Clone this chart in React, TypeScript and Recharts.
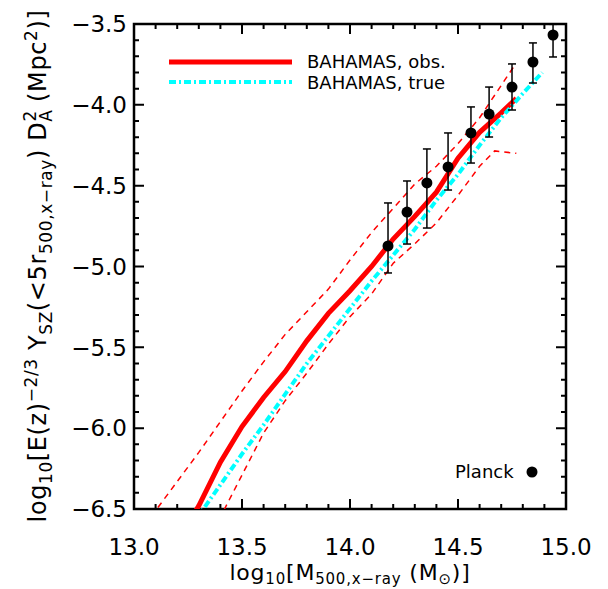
import {
  ComposedChart,
  Line,
  Scatter,
  ErrorBar,
  XAxis,
  YAxis,
  Customized,
} from 'recharts'

const FONT = "'DejaVu Sans', sans-serif"

const xTicks = [
  13.0, 13.1, 13.2, 13.3, 13.4, 13.5, 13.6, 13.7, 13.8, 13.9, 14.0, 14.1, 14.2, 14.3,
  14.4, 14.5, 14.6, 14.7, 14.8, 14.9, 15.0,
]
const yTicks = [
  -6.5, -6.4, -6.3, -6.2, -6.1, -6.0, -5.9, -5.8, -5.7, -5.6, -5.5, -5.4, -5.3, -5.2,
  -5.1, -5.0, -4.9, -4.8, -4.7, -4.6, -4.5, -4.4, -4.3, -4.2, -4.1, -4.0, -3.9, -3.8,
  -3.7, -3.6, -3.5,
]

// BAHAMAS, obs. (solid red)
const obsMass = [13.2, 13.3, 13.4, 13.5, 13.6, 13.7, 13.8, 13.9, 14.0, 14.1, 14.2, 14.3, 14.4, 14.5, 14.6, 14.7, 14.77]
const obsY = [-6.7, -6.48, -6.21, -5.99, -5.81, -5.65, -5.46, -5.29, -5.15, -5.0, -4.83, -4.69, -4.54, -4.33, -4.17, -4.05, -3.96]

// upper / lower scatter of obs. (dashed red)
const upMass = [13.05, 13.1, 13.2, 13.3, 13.4, 13.5, 13.6, 13.7, 13.8, 13.9, 14.0, 14.1, 14.2, 14.3, 14.4, 14.5, 14.6, 14.7, 14.76]
const upY = [-6.6, -6.51, -6.33, -6.15, -5.96, -5.77, -5.59, -5.42, -5.28, -5.14, -4.96, -4.79, -4.64, -4.49, -4.38, -4.24, -4.08, -3.88, -3.76]
const loMass = [13.35, 13.4, 13.5, 13.6, 13.7, 13.8, 13.9, 14.0, 14.1, 14.2, 14.3, 14.4, 14.5, 14.6, 14.67, 14.77]
const loY = [-6.69, -6.55, -6.29, -6.03, -5.83, -5.66, -5.48, -5.31, -5.17, -4.98, -4.86, -4.73, -4.56, -4.38, -4.285, -4.3]

// BAHAMAS, true (cyan dash-dot)
const trueMass = [13.25, 13.3, 13.4, 13.5, 13.6, 13.7, 13.8, 13.9, 14.0, 14.1, 14.2, 14.3, 14.4, 14.5, 14.6, 14.7, 14.8, 14.89]
const trueY = [-6.64, -6.54, -6.35, -6.16, -5.98, -5.79, -5.6, -5.43, -5.26, -5.09, -4.93, -4.77, -4.59, -4.43, -4.25, -4.08, -3.93, -3.8]

// Planck points with error bars
const planckMass = [14.176, 14.264, 14.356, 14.454, 14.56, 14.644, 14.75, 14.847, 14.94]
const planckY = [-4.873, -4.663, -4.483, -4.384, -4.174, -4.057, -3.89, -3.735, -3.568]
const planckErrLo = [0.167, 0.198, 0.279, 0.143, 0.186, 0.142, 0.142, 0.13, 0.136]
const planckErrHi = [0.266, 0.192, 0.21, 0.21, 0.161, 0.167, 0.143, 0.118, 0.066]

const toPts = (xs: number[], ys: number[]) => xs.map((x, i) => ({ x, y: ys[i] }))
const obsData = toPts(obsMass, obsY)
const upData = toPts(upMass, upY)
const loData = toPts(loMass, loY)
const trueData = toPts(trueMass, trueY)
const planckData = planckMass.map((x, i) => ({
  x,
  y: planckY[i],
  err: [planckErrLo[i], planckErrHi[i]],
}))

const X_MIN = 13
const X_MAX = 15
const Y_MIN = -6.5
const Y_MAX = -3.5

// chart geometry
const W = 608
const H = 589
const MARGIN = { top: 24, right: 42, bottom: 0, left: 0 }
const Y_AXIS_W = 134
const X_AXIS_H = 80
const PLOT = {
  left: MARGIN.left + Y_AXIS_W,
  top: MARGIN.top,
  right: W - MARGIN.right,
  bottom: H - MARGIN.bottom - X_AXIS_H,
}
const sx = (v: number) => PLOT.left + ((v - X_MIN) / (X_MAX - X_MIN)) * (PLOT.right - PLOT.left)
const sy = (v: number) => PLOT.bottom - ((v - Y_MIN) / (Y_MAX - Y_MIN)) * (PLOT.bottom - PLOT.top)

const isMajor = (v: number) => Math.abs(v * 2 - Math.round(v * 2)) < 1e-6
const fmt = (v: number) => (v < 0 ? '\u2212' + Math.abs(v).toFixed(1) : v.toFixed(1))

const XTickLabel = (props: any) => {
  const { x, y, payload } = props
  if (!isMajor(payload.value)) return <g />
  return (
    <text x={x} y={y + 46} textAnchor="middle" fontSize={23} fontFamily={FONT} fill="#000">
      {fmt(payload.value)}
    </text>
  )
}

const YTickLabel = (props: any) => {
  const { x, y, payload } = props
  if (!isMajor(payload.value)) return <g />
  return (
    <text x={x - 7} y={y} dy="0.36em" textAnchor="end" fontSize={23} fontFamily={FONT} fill="#000">
      {fmt(payload.value)}
    </text>
  )
}

// IDL-style box with inward ticks on all four sides
function Frame() {
  const segs: string[] = []
  xTicks.forEach((v) => {
    const len = isMajor(v) ? 10 : 5
    const x = sx(v)
    segs.push(`M${x},${PLOT.bottom}v${-len}`, `M${x},${PLOT.top}v${len}`)
  })
  yTicks.forEach((v) => {
    const len = isMajor(v) ? 10 : 5
    const y = sy(v)
    segs.push(`M${PLOT.left},${y}h${len}`, `M${PLOT.right},${y}h${-len}`)
  })
  return (
    <g>
      <rect
        x={PLOT.left}
        y={PLOT.top}
        width={PLOT.right - PLOT.left}
        height={PLOT.bottom - PLOT.top}
        fill="none"
        stroke="#000"
        strokeWidth={2.5}
      />
      <path d={segs.join('')} stroke="#000" strokeWidth={2} fill="none" />
    </g>
  )
}

function Decorations() {
  return (
    <g fontFamily={FONT} fill="#000">
      {/* legend */}
      <line x1={169} y1={62} x2={292} y2={62} stroke="#ff0000" strokeWidth={5} />
      <line x1={169} y1={82} x2={292} y2={82} stroke="#00ffff" strokeWidth={4} strokeDasharray="7 3 2 3" />
      <text x={307} y={62} dy="0.36em" fontSize={18}>BAHAMAS, obs.</text>
      <text x={307} y={83} dy="0.36em" fontSize={18}>BAHAMAS, true</text>
      <text x={455} y={472} dy="0.36em" fontSize={18}>Planck</text>
      <circle cx={532} cy={472} r={5.5} fill="#000" />

      {/* x title */}
      <text x={350} y={580} textAnchor="middle" fontSize={22} letterSpacing={0.8}>
        log<tspan fontSize={15} dy={4}>10</tspan>
        <tspan dy={-4}>[M</tspan>
        <tspan fontSize={15} dy={4}>500,x{'\u2212'}ray</tspan>
        <tspan dy={-4}> (M</tspan>
        <tspan fontSize={15} dy={4}>{'\u2299'}</tspan>
        <tspan dy={-4}>)]</tspan>
      </text>

      {/* y title */}
      <text
        transform="translate(46 266) rotate(-90)"
        x={0}
        y={0}
        textAnchor="middle"
        fontSize={24}
        letterSpacing={0.6}
      >
        log<tspan fontSize={17} dy={6}>10</tspan>
        <tspan dy={-6}>[E(z)</tspan>
        <tspan fontSize={17} dy={-9}>{'\u2212'}2/3</tspan>
        <tspan dy={9}> Y</tspan>
        <tspan fontSize={17} dy={6}>SZ</tspan>
        <tspan dy={-6}>(&lt;5r</tspan>
        <tspan fontSize={17} dy={6}>500,x{'\u2212'}ray</tspan>
        <tspan dy={-6}>) D</tspan>
        <tspan fontSize={17} dy={6}>A</tspan>
        <tspan fontSize={17} dx={-12} dy={-16}>2</tspan>
        <tspan dy={10}> (Mpc</tspan>
        <tspan fontSize={17} dy={-9}>2</tspan>
        <tspan dy={9}>)]</tspan>
      </text>
    </g>
  )
}

export default function App() {
  return (
    <>
      <style>{'body{margin:0}'}</style>
      <ComposedChart width={W} height={H} margin={MARGIN}>
        <XAxis
          dataKey="x"
          type="number"
          domain={[X_MIN, X_MAX]}
          allowDataOverflow
          ticks={xTicks}
          interval={0}
          height={X_AXIS_H}
          tickSize={0}
          tickMargin={0}
          tickLine={false}
          tick={XTickLabel}
          axisLine={false}
        />
        <YAxis
          dataKey="y"
          type="number"
          domain={[Y_MIN, Y_MAX]}
          allowDataOverflow
          ticks={yTicks}
          interval={0}
          width={Y_AXIS_W}
          tickSize={0}
          tickMargin={0}
          tickLine={false}
          tick={YTickLabel}
          axisLine={false}
        />

        <Line data={upData} dataKey="y" type="linear" stroke="#ff0000" strokeWidth={1.5} strokeDasharray="6 5" dot={false} activeDot={false} isAnimationActive={false} />
        <Line data={loData} dataKey="y" type="linear" stroke="#ff0000" strokeWidth={1.5} strokeDasharray="6 5" dot={false} activeDot={false} isAnimationActive={false} />
        <Line data={obsData} dataKey="y" type="linear" stroke="#ff0000" strokeWidth={5} dot={false} activeDot={false} isAnimationActive={false} />
        <Line data={trueData} dataKey="y" type="linear" stroke="#00ffff" strokeWidth={4} strokeDasharray="7 3 2 3" dot={false} activeDot={false} isAnimationActive={false} />

        <Scatter
          data={planckData}
          dataKey="y"
          fill="#000"
          isAnimationActive={false}
          shape={(p: any) => <circle cx={p.cx} cy={p.cy} r={5.5} fill="#000" />}
        >
          <ErrorBar dataKey="err" direction="y" width={4} stroke="#000" strokeWidth={1.5} isAnimationActive={false} />
        </Scatter>

        <Customized component={Frame} />
        <Customized component={Decorations} />
      </ComposedChart>
    </>
  )
}
